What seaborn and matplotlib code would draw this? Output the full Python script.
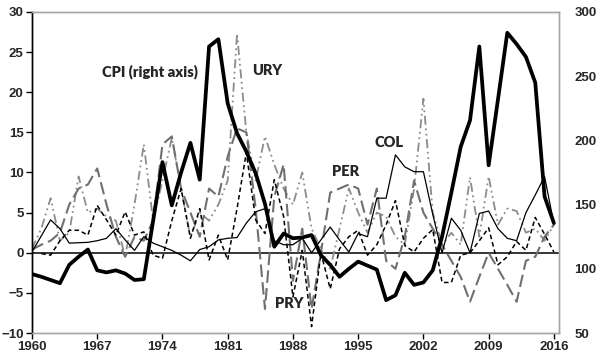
import numpy as np
import pandas as pd
import seaborn as sns
import matplotlib
matplotlib.use("Agg")
import matplotlib.pyplot as plt

years = list(range(1960, 2017))

# CPI index, read against the right axis
cpi = [95.9, 93.8, 91.3, 88.8, 103.1, 109.4, 115.0, 98.8, 97.2, 98.8,
       96.3, 91.3, 91.9, 137.5, 183.1, 149.4, 175.0, 198.1, 169.4, 273.1,
       278.8, 228.8, 205.6, 191.3, 174.4, 150.6, 117.2, 127.5, 123.8, 124.4,
       126.3, 110.6, 103.1, 93.8, 100.0, 105.6, 102.5, 99.4, 75.6, 79.4,
       96.9, 87.5, 89.4, 98.8, 125.0, 159.4, 195.0, 215.6, 273.1, 180.6,
       231.9, 283.8, 275.0, 265.0, 245.0, 156.3, 135.6]

col = [0.1, 2.1, 4.1, 3.0, 1.2, 1.25, 1.3, 1.5, 1.8, 3.0,
       1.6, 0.3, 2.0, 1.2, 0.75, 0.3, -0.3, -1.0, 0.4, 0.75,
       1.6, 1.8, 1.9, 3.7, 5.1, 5.5, 1.5, 1.0, 1.0, 1.8,
       0.0, 1.6, 3.2, 1.6, 0.1, 2.4, 2.0, 6.8, 6.8, 12.2,
       10.7, 10.1, 10.1, 4.8, 0.0, 4.3, 2.8, 0.0, 4.9, 5.2,
       3.0, 1.8, 1.5, 5.0, 7.2, 9.5, 3.6]

pry = [np.nan, -0.1, -0.3, 1.5, 2.8, 2.8, 2.2, 5.9, 4.1, 2.2,
       5.1, 2.2, 2.6, -0.3, -0.7, 4.0, 8.0, 1.8, 5.5, -0.9,
       2.2, -0.9, 5.5, 12.5, 4.1, 2.4, 9.1, 4.5, -5.5, 0.3,
       -9.2, 0.0, -4.5, 0.5, 2.0, 2.8, -0.3, 1.0, 3.5, 6.5,
       0.9, 0.1, 1.8, 2.9, -3.7, -3.7, -0.3, 0.0, 1.5, 3.1,
       -1.5, -0.5, 1.4, 0.3, 4.4, 2.3, 0.1]

per = [0.4, 1.0, 1.5, 2.5, 6.0, 8.0, 8.5, 10.5, 6.0, 2.0,
       -0.5, 2.0, 1.5, 4.0, 13.5, 14.5, 8.0, 5.0, 2.0, 8.0,
       7.0, 12.0, 15.5, 15.0, 5.5, -7.0, 7.0, 11.0, -3.5, 3.0,
       -7.0, 0.0, 7.5, 8.0, 8.5, 8.0, 3.5, 8.0, -1.0, -2.0,
       2.0, 9.0, 5.0, 3.0, 1.0, -1.0, -3.0, -6.1, -3.0, 0.0,
       -2.0, -4.0, -6.1, -1.0, -0.5, 2.0, 3.5]

ury = [0.5, 3.0, 6.8, 1.5, 2.5, 9.5, 5.0, 5.5, 4.5, 4.0,
       -0.5, 6.0, 13.5, 4.0, 9.0, 14.3, 8.0, 2.0, 5.0, 4.0,
       6.0, 9.0, 27.3, 15.0, 9.0, 14.5, 11.0, 8.0, 6.0, 10.0,
       3.0, 0.5, -2.0, 3.0, 8.0, 5.0, 2.5, 5.0, 4.5, 2.0,
       1.0, 8.0, 19.2, 5.0, 1.0, 2.5, 1.0, 9.4, 2.0, 9.5,
       3.5, 5.5, 5.2, 2.5, 3.0, 1.5, 3.5]

xticks = [1960, 1967, 1974, 1981, 1988, 1995, 2002, 2009, 2016]

sns.set_style("white")
plt.rcParams['font.family'] = ['Liberation Sans', 'DejaVu Sans']

fig, ax = plt.subplots(figsize=(6, 3.63), dpi=100)
fig.subplots_adjust(left=0.0533, right=0.9317, top=0.967, bottom=0.0826)

ax.axhline(0, color='black', lw=1.1, zorder=1)

sns.lineplot(x=years, y=ury, ax=ax, color='#8c8c8c', lw=1.3,
             linestyle=(0, (5, 2, 1, 2, 1, 2)))
sns.lineplot(x=years, y=per, ax=ax, color='#707070', lw=1.5,
             linestyle=(0, (6, 2.5)))
sns.lineplot(x=years, y=pry, ax=ax, color='black', lw=1.1,
             linestyle=(0, (3, 2)))
sns.lineplot(x=years, y=col, ax=ax, color='black', lw=0.9)

ax2 = ax.twinx()
sns.lineplot(x=years, y=cpi, ax=ax2, color='black', lw=2.7)

ax.set_xlim(1960, 2016.55)
ax.set_ylim(-10, 30)
ax2.set_ylim(50, 300)
ax.set_yticks(range(-10, 31, 5))
ax2.set_yticks(range(50, 301, 50))
ax.set_xticks(xticks)
for a in (ax, ax2):
    a.set_xlabel("")
    a.set_ylabel("")

for lab in ax.get_xticklabels() + ax.get_yticklabels() + ax2.get_yticklabels():
    lab.set_fontweight('bold')
    lab.set_fontsize(9.5)

ax.tick_params(axis='y', left=True, direction='out', length=4, width=1,
               color='black', pad=2)
ax.tick_params(axis='x', bottom=True, direction='out', length=4, width=1,
               color='black', pad=2)
ax2.tick_params(axis='y', right=False, length=0, pad=11)

for a in (ax, ax2):
    for side in ('top', 'right', 'bottom'):
        a.spines[side].set_color('#a6a6a6')
        a.spines[side].set_linewidth(1)
    a.spines['left'].set_color('black')
    a.spines['left'].set_linewidth(1)

lab_font = dict(family=['Lato', 'DejaVu Sans'], fontweight='heavy',
                fontsize=10.5, ha='left', va='center')
ax.text(1967.5, 22.5, "CPI (right axis)", **lab_font)
ax.text(1983.6, 22.7, "URY", **lab_font)
ax.text(1992.2, 10.1, "PER", **lab_font)
ax.text(1996.8, 13.7, "COL", **lab_font)
ax.text(1986.1, -6.3, "PRY", **lab_font)

fig.savefig("out.png", dpi=100)
